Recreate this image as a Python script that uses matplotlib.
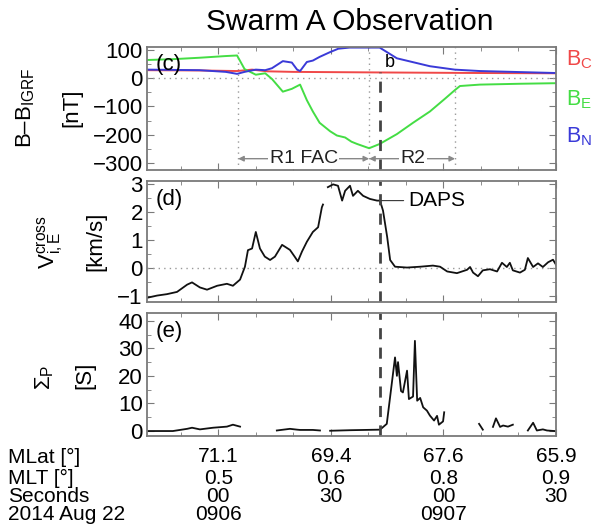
import numpy as np
import matplotlib
matplotlib.use("Agg")
from matplotlib import pyplot as plt
from matplotlib import transforms
from matplotlib.ticker import AutoMinorLocator, MultipleLocator

plt.rcParams['font.family'] = ['Liberation Sans', 'DejaVu Sans']
plt.rcParams['mathtext.fontset'] = 'custom'
plt.rcParams['mathtext.rm'] = 'Liberation Sans'
plt.rcParams['mathtext.it'] = 'Liberation Sans:italic'
plt.rcParams['mathtext.bf'] = 'Liberation Sans:bold'

# time axis: seconds after 09:06:00 UT
# (c) magnetic perturbation [nT]
bc_t = [-19, -5, 5, 9, 13, 20, 43, 70, 90]
bc = [28, 27, 25, 30, 24, 22, 20, 18, 17]
be_t = [-19, -12, -5, 2, 5, 7, 10, 12.5, 14.3, 17.2, 19.6, 21.8, 23.6, 25.2, 27, 29.8, 31.6,
        33.8, 35.5, 37, 40.2, 43, 47.6, 51.9, 56.4, 60.4, 63, 64.4, 69.7, 80.4, 90]
be = [64, 67, 72, 78, 80, 32, 12, 17, -3, -48, -38, -23, -78, -118, -158, -188, -203,
      -210, -225, -233, -248, -233, -198, -158, -118, -73, -43, -28, -23, -20, -18]
bn_t = [-19, -5, 2, 5, 7, 10, 12.5, 14.3, 17.2, 19.6, 21, 21.8, 23.6, 25.2, 27, 29.8, 32,
        35, 43, 47.6, 56.4, 63, 69.7, 90]
bn = [30, 28, 22, 15, 22, 30, 28, 35, 60, 55, 30, 25, 57, 62, 75, 92, 104,
      108, 108, 70, 42, 30, 25, 18]

# (d) cross-track ion drift [km/s]
v_t = [-19, -16.3, -13.7, -11.0, -8.3, -7.0, -4.9, -3.0, -0.3, 2.3, 3.9, 5.8, 7.1, 7.9, 9.0,
       10.0, 11.1, 12.4, 13.8, 15.1, 17.0, 19.1, 20.4, 21.2, 22.3, 23.6, 25.2, 26.6, 27.6, 27.9,
       28.5, 29.2, 30.6, 31.9, 33.0, 33.8, 35.1, 35.9, 37.2, 38.6, 40.4, 42.3, 43.1, 43.9, 45.0,
       45.8, 47.1, 50.3, 53.8, 57.2, 59.1, 61.0, 63.6, 66.3, 67.1, 67.9, 69.2, 70.5, 72.4, 74.3,
       75.6, 76.9, 77.7, 78.5, 80.4, 81.7, 82.5, 83.9, 85.2, 86.5, 87.9, 89.2, 90]
v_ie = [-1.05, -0.97, -0.92, -0.84, -0.58, -0.5, -0.68, -0.76, -0.62, -0.55, -0.62, -0.4, 0.06,
        0.65, 0.71, 1.3, 0.71, 0.42, 0.3, 0.42, 0.84, 0.66, 0.41, 0.25, 0.6, 0.95, 1.3, 1.47,
        2.18, 2.28, np.nan, 2.9, 3.0, 2.95, 2.42, 2.77, 2.95, 2.59, 2.77, 2.59, 2.48, 2.42, 2.42,
        2.06, 1.13, 0.3, 0.06, 0.03, 0.06, 0.1, 0.06, -0.11, -0.17, -0.05, 0.05, -0.15, -0.28,
        -0.07, -0.03, -0.11, 0.2, 0.05, 0.2, -0.07, -0.15, -0.05, 0.37, 0.05, 0.18, 0.05, 0.22,
        0.31, 0.13]

# (e) Pedersen conductance [S]
s_t = [-19, -12.1, -8.3, -7.0, -4.9, -1.4, 2.3, 3.9, 5.8, 6.5, 15.6, 19.1, 21.0, 21.8, 25.2,
       27.1, 28, 29.8, 35.1, 43.1, 44.9, 47.1, 47.6, 47.9, 48.7, 49.2, 50.3, 50.8, 51.9, 52.4,
       53.0, 53.8, 54.6, 55.6, 56.4, 57.5, 58.3, 58.8, 59.9, 60.2, 65, 69.5, 70.5, 71.5, 73.2,
       74.0, 75.1, 75.9, 77.2, 78.5, 80, 82.5, 83.9, 84.9, 86.5, 87.6, 89.7]
sigma_p = [0, 0, 0.8, 1.2, 0.6, 1.2, 1.6, 2.3, 1.6, np.nan, 0.2, 0.8, 0.5, 0.4, 0.4, 0.2,
           np.nan, 0.1, 0.3, 0.5, 2.6, 26.7, 20, 25, 14.5, 14, 21.9, 11.6, 12.5, 32.7, 11, 12,
           8.6, 7.4, 5.6, 3.8, 5.5, 2.3, 3.5, 6.8, np.nan, 2.6, 0.5, np.nan, 1.5, 4.6, 1.5, 2,
           1.6, 2.3, np.nan, 0.2, 3.0, 0.2, 0.6, 0.2, 0]

# bottom annotation rows
tick_t = [0, 30, 60, 90]
mlat = ['71.1', '69.4', '67.6', '65.9']
mlt = ['0.5', '0.6', '0.8', '0.9']
secs = ['00', '30', '00', '30']
hhmm = ['0906', '', '0907', '']
row_names = ['MLat [°]', 'MLT [°]', 'Seconds', '2014 Aug 22']

fac_bounds = [5.3, 40.2, 63.1]
daps_t = 43.1

W, H = 596, 530
fig = plt.figure(figsize=(W / 100, H / 100), dpi=100)


def px_axes(x0, y0, x1, y1):
    return fig.add_axes([x0 / W, 1 - y1 / H, (x1 - x0) / W, (y1 - y0) / H])


ax_c = px_axes(147, 47, 556, 170)
ax_d = px_axes(147, 181, 556, 302)
ax_e = px_axes(147, 313, 556, 436)
frame = '#7a7a7a'

for ax in (ax_c, ax_d, ax_e):
    ax.set_xlim(-19, 90)
    ax.set_xticks(tick_t)
    ax.xaxis.set_minor_locator(MultipleLocator(10))
    ax.yaxis.set_minor_locator(AutoMinorLocator(2))
    ax.tick_params(which='both', direction='in', top=True, right=True, labelbottom=False,
                   color=frame, labelsize=16, pad=3)
    ax.tick_params(which='major', length=5)
    ax.tick_params(which='minor', length=3)
    for sp in ax.spines.values():
        sp.set_color(frame)
        sp.set_linewidth(1.3)

# (c)
ax_c.set_ylim(-325, 110)
ax_c.set_yticks([100, 0, -100, -200, -300])
ax_c.axhline(0, color='#999999', ls=(0, (1, 3)), lw=1)
for tb in fac_bounds:
    ax_c.axvline(tb, color='#999999', ls=(0, (1, 3)), lw=1)
ax_c.plot(bc_t, bc, color='#f04848', lw=1.4)
ax_c.plot(be_t, be, color='#44dd44', lw=1.4)
ax_c.plot(bn_t, bn, color='#3a3ad8', lw=1.4)
ax_c.axvline(daps_t, ymin=0, ymax=0.8, color='#444444', ls=(0, (4, 3)), lw=2)
ax_c.text(44.3, 55, 'b', fontsize=13, ha='left', va='center')
ax_c.text(0.02, 0.86, '(c)', transform=ax_c.transAxes, fontsize=16, va='center')
arrow = dict(arrowstyle='-|>', color='#888888', lw=1, mutation_scale=8, shrinkA=0, shrinkB=0)
ax_c.annotate('', xy=(fac_bounds[0], -285), xytext=(22.8, -285), arrowprops=arrow)
ax_c.annotate('', xy=(fac_bounds[1], -285), xytext=(22.8, -285), arrowprops=arrow)
ax_c.annotate('', xy=(fac_bounds[1], -285), xytext=(51.9, -285), arrowprops=arrow)
ax_c.annotate('', xy=(fac_bounds[2], -285), xytext=(51.9, -285), arrowprops=arrow)
box = dict(facecolor='white', edgecolor='none', pad=1)
ax_c.text(22.8, -285, 'R1 FAC', fontsize=14, ha='center', va='center', bbox=box, color='#222222')
ax_c.text(51.9, -285, 'R2', fontsize=14, ha='center', va='center', bbox=box, color='#222222')

# (d)
ax_d.set_ylim(-1.2, 3.12)
ax_d.set_yticks([3, 2, 1, 0, -1])
ax_d.axhline(0, color='#999999', ls=(0, (1, 3)), lw=1)
ax_d.plot(v_t, v_ie, color='#111111', lw=1.3)
ax_d.axvline(daps_t, color='#444444', ls=(0, (4, 3)), lw=2)
ax_d.annotate('DAPS', xy=(43.5, 2.42), xytext=(50.5, 2.42), fontsize=15, va='center',
              arrowprops=dict(arrowstyle='-', color='#333333', lw=0.8, shrinkA=1, shrinkB=0))
ax_d.text(0.02, 0.85, '(d)', transform=ax_d.transAxes, fontsize=16, va='center')

# (e)
ax_e.set_ylim(-1.8, 42.8)
ax_e.set_yticks([40, 30, 20, 10, 0])
ax_e.plot(s_t, sigma_p, color='#111111', lw=1.3)
ax_e.axvline(daps_t, color='#444444', ls=(0, (4, 3)), lw=2)
ax_e.text(0.02, 0.85, '(e)', transform=ax_e.transAxes, fontsize=16, va='center')

# y labels as separate columns
ylab = [('B–B$_{\\rm IGRF}$', 26, 108), ('[nT]', 72, 108),
        ('V$^{\\rm cross}_{\\rm i,E}$', 50, 242), ('[km/s]', 96, 241),
        ('Σ$_{\\rm P}$', 45, 377), ('[S]', 85, 375)]
for txt, xp, yp in ylab:
    fig.text(xp / W, 1 - yp / H, txt, rotation=90, fontsize=16, ha='center', va='center')

# component legend
for txt, col, yp in [('B$_{\\rm C}$', '#f04848', 60), ('B$_{\\rm E}$', '#44dd44', 100),
                     ('B$_{\\rm N}$', '#3a3ad8', 137)]:
    fig.text(566 / W, 1 - yp / H, txt, color=col, fontsize=15.5, ha='left', va='center')

fig.text(350 / W, 1 - 22 / H, 'Swarm A Observation', fontsize=21.5, ha='center', va='center')

# bottom annotation table
trans = transforms.blended_transform_factory(ax_e.transData, fig.transFigure)
rows_y = [457, 478, 497, 515]
for row, yp in zip([mlat, mlt, secs, hhmm], rows_y):
    for tt, lab in zip(tick_t, row):
        ax_e.text(tt, 1 - yp / H, lab, transform=trans, fontsize=15, ha='center', va='center',
                  clip_on=False)
for name, yp in zip(row_names, rows_y):
    fig.text(8 / W, 1 - yp / H, name, fontsize=15, ha='left', va='center')

fig.savefig('out.png', dpi=100)
